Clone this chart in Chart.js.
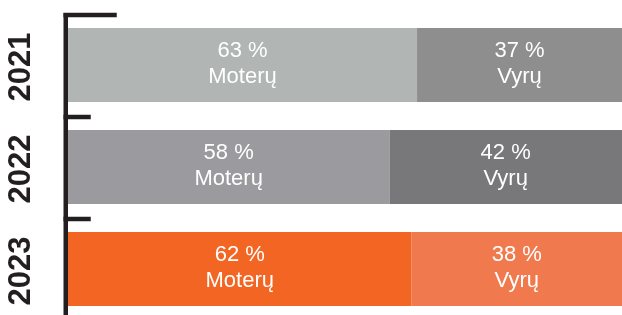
<!DOCTYPE html>
<html>
<head>
<meta charset="utf-8">
<script src="https://cdn.jsdelivr.net/npm/chart.js@4/dist/chart.umd.min.js"></script>
<style>
  html, body { margin: 0; padding: 0; background: #ffffff; overflow: hidden; }
  #wrap { width: 622px; height: 320px; position: relative; }
</style>
</head>
<body>
<div id="wrap"><canvas id="c" width="622" height="320"></canvas></div>
<script>
const years = ["2021", "2022", "2023"];
const womenPct = [63, 58, 62];
const menPct = [37, 42, 38];
const womenLabel = "Moterų";
const menLabel = "Vyrų";
const womenColors = ["#b1b6b5", "#9b9a9e", "#f26522"];
const menColors = ["#8e8e8e", "#78777a", "#f07a4d"];
const AXIS = "#231f20";

const axisPlugin = {
  id: 'axisPlugin',
  afterDatasetsDraw(chart) {
    const ctx = chart.ctx;
    const y = chart.scales.y;
    const area = chart.chartArea;
    const n = years.length;
    const band = (y.getPixelForValue(n - 1) - y.getPixelForValue(0)) / (n - 1);
    ctx.save();
    ctx.strokeStyle = AXIS;
    ctx.lineWidth = 4.5;
    const axX = area.left - 2.25;
    ctx.beginPath();
    ctx.moveTo(axX, area.top - 1);
    ctx.lineTo(axX, area.bottom);
    ctx.stroke();
    for (let i = 0; i < n; i++) {
      const by = y.getPixelForValue(i) - band / 2 + 1;
      const len = i === 0 ? 51 : 25;
      ctx.beginPath();
      ctx.moveTo(axX - 2.25, by);
      ctx.lineTo(axX + len, by);
      ctx.stroke();
    }
    // year labels
    ctx.fillStyle = AXIS;
    ctx.font = "bold 31px 'Liberation Sans', Arial, sans-serif";
    ctx.textAlign = 'center';
    ctx.textBaseline = 'middle';
    years.forEach((lab, i) => {
      const cy = y.getPixelForValue(i);
      ctx.save();
      ctx.translate(21, cy + 2);
      ctx.rotate(-Math.PI / 2);
      ctx.fillText(lab, 0, 0);
      ctx.restore();
    });
    // bar labels
    ctx.fillStyle = "#ffffff";
    ctx.font = "22px 'Liberation Sans', Arial, sans-serif";
    chart.data.datasets.forEach((ds, di) => {
      const meta = chart.getDatasetMeta(di);
      meta.data.forEach((bar, i) => {
        const cx = (bar.x + bar.base) / 2;
        const cy = bar.y;
        ctx.fillText(ds.data[i] + " %", cx, cy - 14);
        ctx.fillText(ds.label, cx, cy + 12);
      });
    });
    ctx.restore();
  }
};

new Chart(document.getElementById('c'), {
  type: 'bar',
  data: {
    labels: years,
    datasets: [
      { label: womenLabel, data: womenPct, backgroundColor: womenColors, borderWidth: 0 },
      { label: menLabel, data: menPct, backgroundColor: menColors, borderWidth: 0 }
    ]
  },
  options: {
    indexAxis: 'y',
    responsive: false,
    animation: false,
    layout: { padding: { left: 68, top: 14, right: 0, bottom: 0 } },
    plugins: { legend: { display: false }, tooltip: { enabled: false } },
    scales: {
      x: { stacked: true, min: 0, max: 100, display: false },
      y: { stacked: true, display: false }
    },
    datasets: { bar: { barPercentage: 0.725, categoryPercentage: 1 } }
  },
  plugins: [axisPlugin]
});
</script>
</body>
</html>
